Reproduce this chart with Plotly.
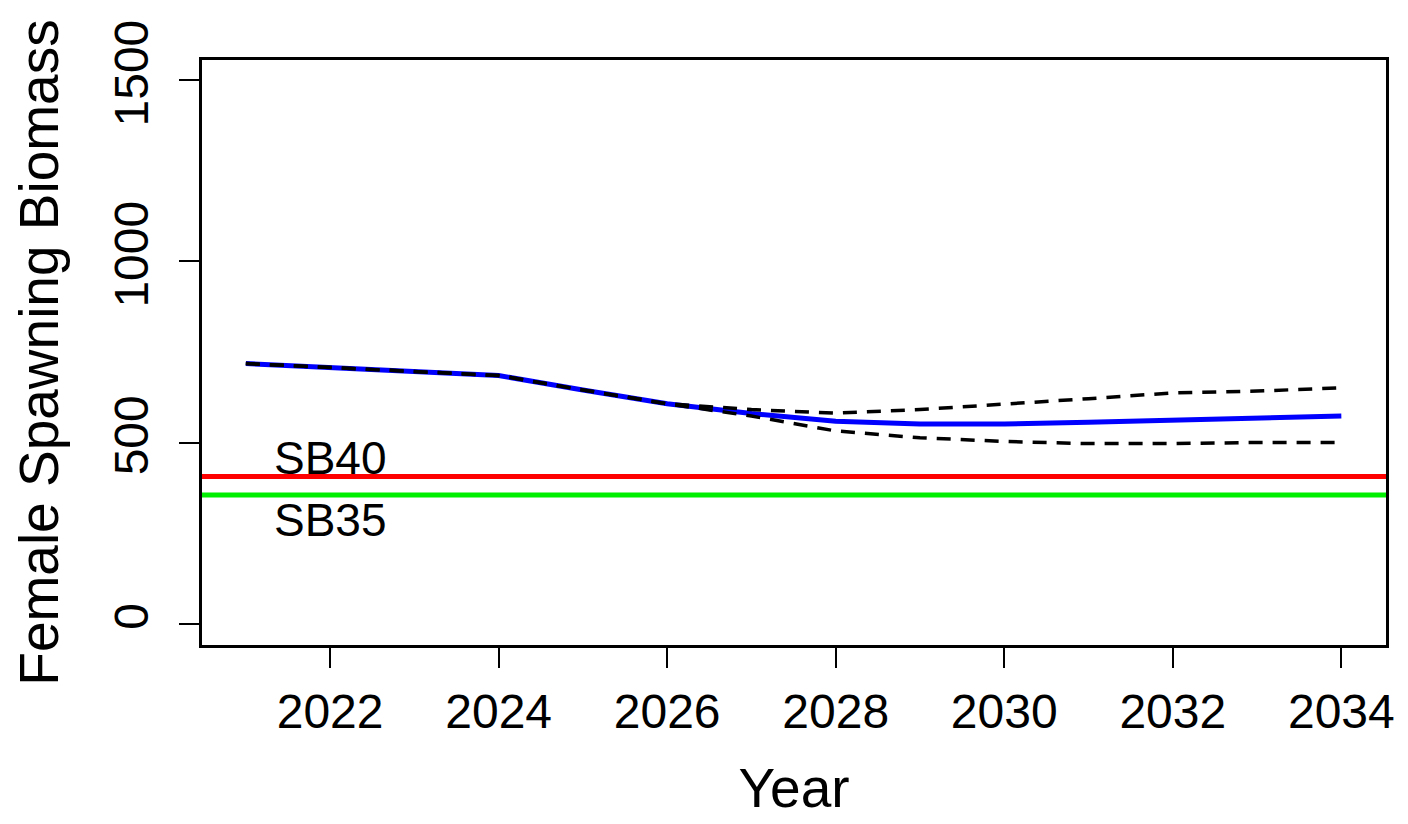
import plotly.graph_objects as go

years = list(range(2021, 2035))
sb_mean = [718, 707, 694, 685, 645, 607, 580, 559, 551, 551, 556, 562, 567, 573]
sb_upper = [718, 707, 694, 685, 645, 607, 591, 581, 591, 605, 621, 637, 642, 651]
sb_lower = [718, 707, 694, 685, 645, 607, 573, 532, 513, 503, 497, 497, 500, 500]
sb40 = 406
sb35 = 355

fig = go.Figure()
fig.add_trace(go.Scatter(x=years, y=sb_mean, mode="lines",
                         line=dict(color="#0000ff", width=5), showlegend=False))
fig.add_trace(go.Scatter(x=years, y=sb_upper, mode="lines",
                         line=dict(color="black", width=3.5, dash="14px,10px"), showlegend=False))
fig.add_trace(go.Scatter(x=years, y=sb_lower, mode="lines",
                         line=dict(color="black", width=3.5, dash="14px,10px"), showlegend=False))

fig.add_shape(type="line", xref="paper", x0=0, x1=1, y0=sb40, y1=sb40,
              line=dict(color="#ff0000", width=5))
fig.add_shape(type="line", xref="paper", x0=0, x1=1, y0=sb35, y1=sb35,
              line=dict(color="#00ee00", width=5))

fig.add_annotation(x=2022, y=457, text="SB40", showarrow=False,
                   font=dict(size=46, color="black"))
fig.add_annotation(x=2022, y=285, text="SB35", showarrow=False,
                   font=dict(size=46, color="black"))

fig.update_layout(
    width=1408, height=824,
    margin=dict(l=194, r=30, t=40, b=187),
    plot_bgcolor="white", paper_bgcolor="white",
    font=dict(family="Liberation Sans, Arial", size=46, color="black"),
    xaxis=dict(range=[2020.48, 2034.53], tickvals=list(range(2022, 2035, 2)),
               showgrid=False, zeroline=False, showline=True, mirror=True,
               linecolor="black", linewidth=3, ticks="outside", ticklen=20,
               tickwidth=2, tickcolor="black", ticklabelstandoff=2,
               tickfont=dict(size=48),
               title=dict(text="Year", standoff=32)),
    yaxis=dict(range=[-59, 1556], tickvals=[0, 500, 1000, 1500],
               showgrid=False, zeroline=False, showline=True, mirror=True,
               linecolor="black", linewidth=3, ticks="outside", ticklen=20,
               tickwidth=2, tickcolor="black", tickangle=-90, ticklabelstandoff=12,
               tickfont=dict(size=48),
               title=dict(text="Female Spawning Biomass", standoff=36)),
)

fig.write_html("out.html")
